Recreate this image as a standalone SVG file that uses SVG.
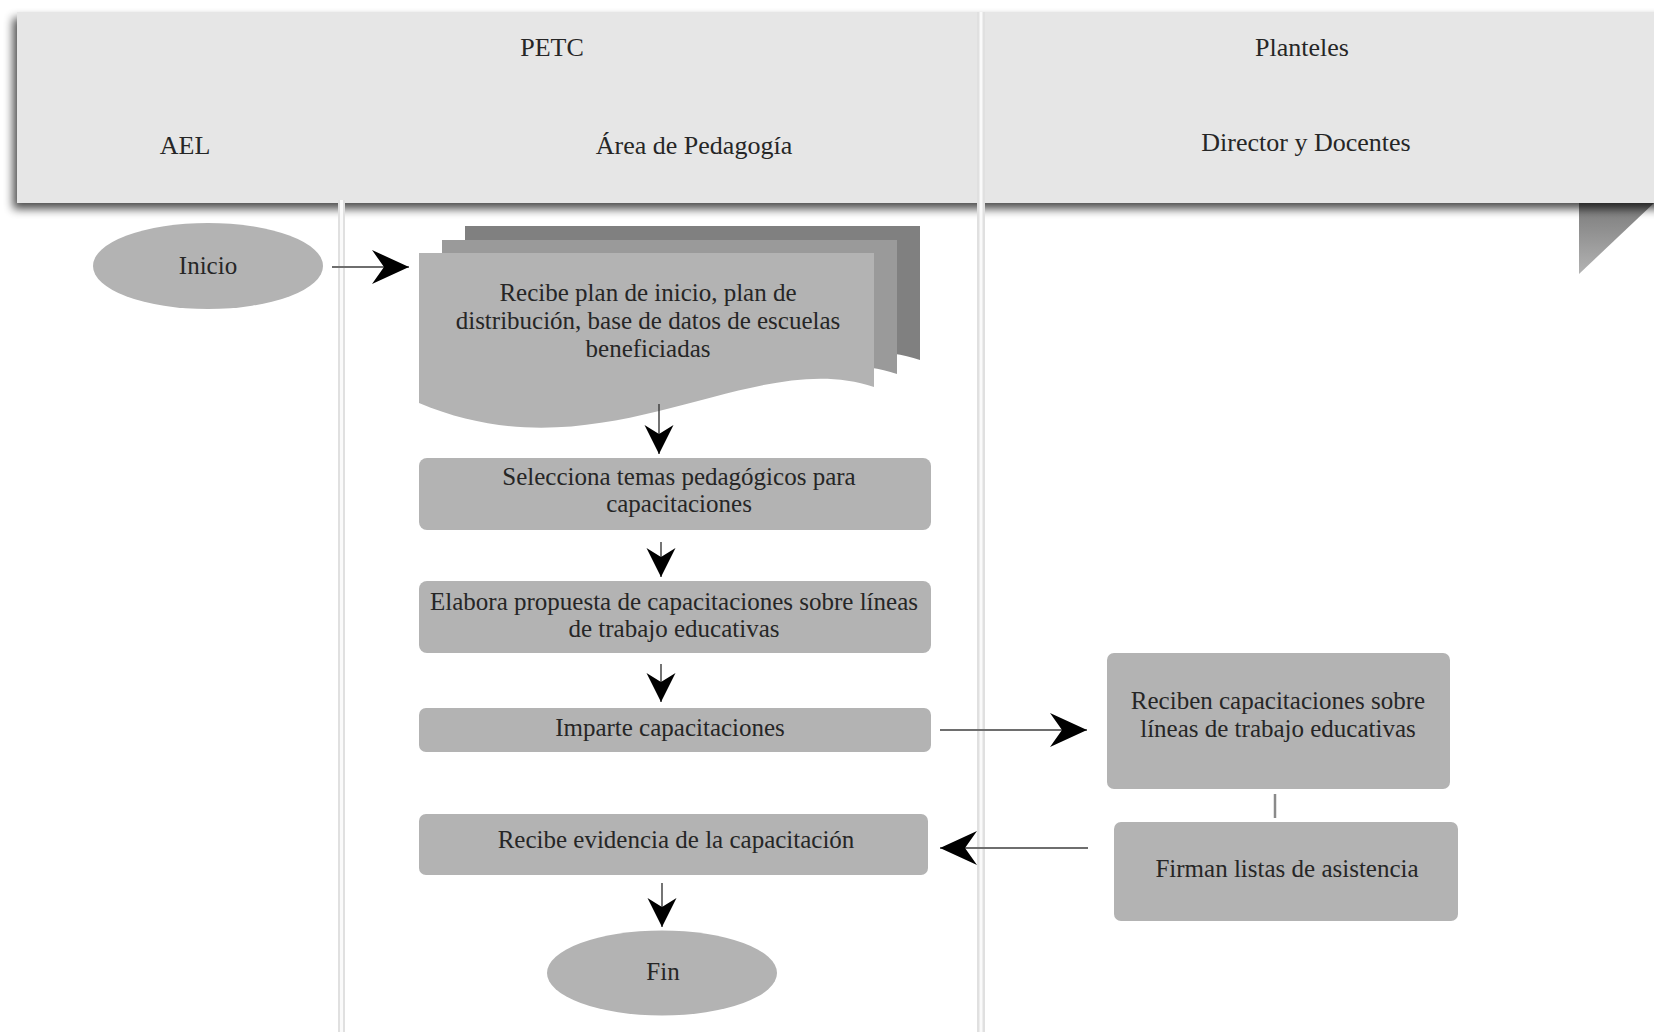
<svg xmlns="http://www.w3.org/2000/svg" width="1654" height="1032" viewBox="0 0 1654 1032">
  <defs>
    <style>
      .lbl { font-family: "Liberation Serif", "Times New Roman", serif; fill: #262626; text-anchor: middle; }
      .head { font-size: 26px; }
      .body { font-size: 25px; }
      .node { fill: #b3b3b3; }
      .flow { fill: none; stroke: #3a3a3a; stroke-width: 1.4; }
      .flowh { fill: none; stroke: #6e6e6e; stroke-width: 2; }
      .link { fill: none; stroke: #8a8a8a; stroke-width: 2.5; }
      .lane-edge { fill: #e0e0e0; }
      .lane-core { fill: #fafafa; }
    </style>
    <filter id="bandShadow" x="-5%" y="-20%" width="110%" height="140%">
      <feGaussianBlur in="SourceAlpha" stdDeviation="5"/>
      <feOffset dx="-4" dy="6" result="blur"/>
      <feComponentTransfer>
        <feFuncA type="linear" slope="0.7"/>
      </feComponentTransfer>
      <feMerge>
        <feMergeNode/>
        <feMergeNode in="SourceGraphic"/>
      </feMerge>
    </filter>
    <linearGradient id="foldGrad" x1="0" y1="0" x2="0" y2="1">
      <stop offset="0" stop-color="#7a7a7a"/>
      <stop offset="1" stop-color="#b3b3b3"/>
    </linearGradient>
    <!-- document sheet outline with wavy bottom edge -->
    <path id="sheet" d="M0,0 H455 V134 C330,92 185,228 0,150 Z"/>
    <marker id="headBig" viewBox="-40 -20 42 40" markerWidth="42" markerHeight="40" refX="0" refY="0" orient="auto" markerUnits="userSpaceOnUse">
      <path d="M0,0 L-37,-17 L-25,0 L-37,17 Z" fill="#000"/>
    </marker>
    <marker id="headSmall" viewBox="-32 -16 34 32" markerWidth="34" markerHeight="32" refX="0" refY="0" orient="auto" markerUnits="userSpaceOnUse">
      <path d="M0,0 L-29,-14.5 L-20,0 L-29,14.5 Z" fill="#000"/>
    </marker>
  </defs>

  <rect x="0" y="0" width="1654" height="1032" fill="#ffffff"/>

  <!-- ribbon fold under the header -->
  <polygon points="1579,203 1654,203 1579,274" fill="url(#foldGrad)"/>

  <!-- header band -->
  <g id="header">
    <rect x="17" y="12" width="1660" height="191" fill="#e6e6e6" filter="url(#bandShadow)"/>
  </g>

  <!-- lane separators -->
  <g id="lanes">
    <rect class="lane-edge" x="338" y="200" width="7" height="832"/>
    <rect class="lane-core" x="340" y="200" width="3" height="832"/>
    <rect class="lane-edge" x="977" y="12" width="8" height="1020"/>
    <rect class="lane-core" x="979.5" y="12" width="3" height="1020"/>
  </g>

  <g id="header-labels">
    <text class="lbl head" x="552" y="56">PETC</text>
    <text class="lbl head" x="1302" y="56">Planteles</text>
    <text class="lbl head" x="185" y="154">AEL</text>
    <text class="lbl head" x="694" y="154">Área de Pedagogía</text>
    <text class="lbl head" x="1306" y="151">Director y Docentes</text>
  </g>

  <g id="inicio">
    <ellipse class="node" cx="208" cy="266" rx="115" ry="43"/>
    <text class="lbl body" x="208" y="274">Inicio</text>
  </g>

  <g id="recibe-plan">
    <use href="#sheet" x="465" y="226" fill="#808080"/>
    <use href="#sheet" x="442" y="240" fill="#9a9a9a"/>
    <use href="#sheet" x="419" y="253" fill="#b3b3b3"/>
    <text class="lbl body" x="648" y="301">Recibe plan de inicio, plan de</text>
    <text class="lbl body" x="648" y="329">distribución, base de datos de escuelas</text>
    <text class="lbl body" x="648" y="357">beneficiadas</text>
  </g>

  <g id="selecciona">
    <rect class="node" x="419" y="458" width="512" height="72" rx="8"/>
    <text class="lbl body" x="679" y="485">Selecciona temas pedagógicos para</text>
    <text class="lbl body" x="679" y="512">capacitaciones</text>
  </g>

  <g id="elabora">
    <rect class="node" x="419" y="581" width="512" height="72" rx="8"/>
    <text class="lbl body" x="674" y="610">Elabora propuesta de capacitaciones sobre líneas</text>
    <text class="lbl body" x="674" y="637">de trabajo educativas</text>
  </g>

  <g id="imparte">
    <rect class="node" x="419" y="708" width="512" height="44" rx="7"/>
    <text class="lbl body" x="670" y="736">Imparte capacitaciones</text>
  </g>

  <g id="recibe-evidencia">
    <rect class="node" x="419" y="814" width="509" height="61" rx="7"/>
    <text class="lbl body" x="676" y="848">Recibe evidencia de la capacitación</text>
  </g>

  <g id="fin">
    <ellipse class="node" cx="662" cy="973" rx="115" ry="42.5"/>
    <text class="lbl body" x="663" y="980">Fin</text>
  </g>

  <g id="reciben">
    <rect class="node" x="1107" y="653" width="343" height="136" rx="7"/>
    <text class="lbl body" x="1278" y="709">Reciben capacitaciones sobre</text>
    <text class="lbl body" x="1278" y="737">líneas de trabajo educativas</text>
  </g>

  <g id="firman">
    <rect class="node" x="1114" y="822" width="344" height="99" rx="7"/>
    <text class="lbl body" x="1287" y="877">Firman listas de asistencia</text>
  </g>

  <g id="connectors">
    <line class="flowh" x1="332" y1="267" x2="409" y2="267" marker-end="url(#headBig)"/>
    <line class="flow" x1="659" y1="404" x2="659" y2="454" marker-end="url(#headSmall)"/>
    <line class="flow" x1="661" y1="542" x2="661" y2="577" marker-end="url(#headSmall)"/>
    <line class="flow" x1="661" y1="664" x2="661" y2="702" marker-end="url(#headSmall)"/>
    <line class="flowh" x1="940" y1="730" x2="1087" y2="730" marker-end="url(#headBig)"/>
    <line class="link" x1="1275" y1="794" x2="1275" y2="818"/>
    <line class="flowh" x1="1088" y1="848" x2="940" y2="848" marker-end="url(#headBig)"/>
    <line class="flow" x1="662" y1="883" x2="662" y2="927" marker-end="url(#headSmall)"/>
  </g>
</svg>
